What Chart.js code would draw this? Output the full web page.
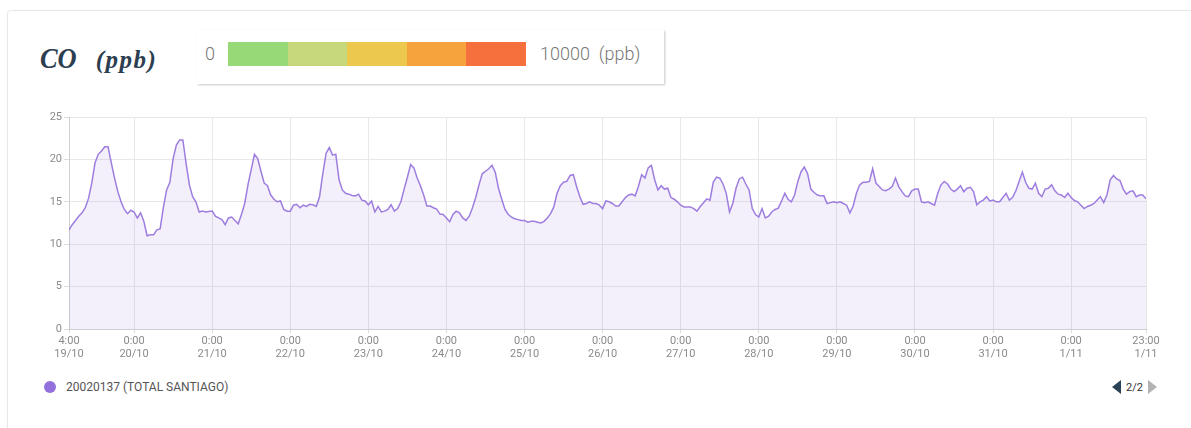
<!DOCTYPE html>
<html>
<head>
<meta charset="utf-8">
<title>CO (ppb)</title>
<script src="https://cdn.jsdelivr.net/npm/chart.js@4/dist/chart.umd.min.js"></script>
<style>
  html, body { margin: 0; padding: 0; background: #fff; }
  body { width: 1191px; height: 428px; position: relative; overflow: hidden; font-family: Roboto, sans-serif; }
  .card { position: absolute; left: 7px; top: 10px; width: 1210px; height: 440px; border: 1px solid #e8e8e8; border-radius: 4px; box-shadow: 0 0 2px rgba(0,0,0,0.04); }
  .title { position: absolute; left: 40px; top: 41px; font-family: 'Liberation Serif', serif; font-weight: bold; font-style: italic; color: #2c3e50; white-space: nowrap; }
  .title .gas { display: inline-block; font-size: 30px; transform: scaleX(0.88); transform-origin: left center; }
  .title .unit { display: inline-block; font-size: 25px; letter-spacing: 1.5px; margin-left: 14px; }
  .scale-box { position: absolute; left: 197px; top: 30px; width: 467px; height: 54px; background: #fff; box-shadow: 1px 1px 2px rgba(0,0,0,0.22); }
  .scale-box .lbl { position: absolute; top: 12px; font-size: 18px; font-weight: 300; color: #777; line-height: 24px; }
  .scale-bar { position: absolute; left: 31px; top: 12px; height: 24px; display: flex; }
  .scale-bar span { display: block; width: 59.6px; height: 24px; }
  #chart { position: absolute; left: 0; top: 100px; }
  .legend { position: absolute; left: 44px; top: 380px; display: flex; align-items: center; font-size: 12px; color: #555; }
  .legend .dot { width: 12px; height: 12px; border-radius: 50%; margin-right: 10px; }
  .pager { position: absolute; left: 1112px; top: 380px; display: flex; align-items: center; font-size: 11px; color: #333; }
  .pager .prev { width: 0; height: 0; border-top: 7px solid transparent; border-bottom: 7px solid transparent; border-right: 9px solid #2b4357; margin-right: 5px; }
  .pager .next { width: 0; height: 0; border-top: 7px solid transparent; border-bottom: 7px solid transparent; border-left: 9px solid #b3b3b3; margin-left: 5px; }
</style>
</head>
<body>
<div class="card"></div>
<div class="title"><span class="gas">CO</span><span class="unit">(ppb)</span></div>
<div class="scale-box">
  <div class="lbl" style="left:8px">0</div>
  <div class="scale-bar" id="scaleBar"></div>
  <div class="lbl" style="left:343px">10000&nbsp;&nbsp;(ppb)</div>
</div>
<canvas id="chart" width="1191" height="269"></canvas>
<div class="legend" id="legend"></div>
<div class="pager"><span class="prev"></span><span>2/2</span><span class="next"></span></div>

<script>
'use strict';

// colour scale shown next to the title
const scaleColors = ['#97d877', '#c6d87b', '#ecc94c', '#f6a33d', '#f6703d'];

// hourly CO readings, first value is 19/10 4:00, last is 1/11 23:00
const co = [
  // 19/10 (4:00 - 23:00)
  11.7, 12.3, 12.8, 13.3, 13.7, 14.3, 15.4, 17.2, 19.6, 20.6, 21.0, 21.5, 21.5, 19.6, 17.8, 16.2, 15.0, 14.1, 13.6, 14.0,
  // 20/10
  13.8, 13.1, 13.7, 12.7, 11.0, 11.1, 11.1, 11.7, 11.8, 14.3, 16.4, 17.3, 20.1, 21.7, 22.3, 22.3, 19.5, 17.0, 15.6, 15.0, 13.8, 13.9, 13.8, 13.85,
  // 21/10
  13.9, 13.3, 13.1, 12.9, 12.3, 13.1, 13.2, 12.8, 12.4, 13.5, 14.8, 17.0, 18.8, 20.6, 20.1, 18.6, 17.2, 16.9, 15.8, 15.3, 15.0, 15.1, 14.1, 13.9,
  // 22/10
  13.9, 14.6, 14.7, 14.3, 14.6, 14.45, 14.7, 14.65, 14.45, 15.6, 18.3, 20.7, 21.4, 20.5, 20.6, 17.6, 16.4, 16.0, 15.9, 15.75, 15.7, 15.9, 15.2, 15.1,
  // 23/10
  14.65, 15.1, 13.8, 14.45, 13.8, 13.9, 14.1, 14.65, 13.9, 14.2, 15.0, 16.5, 17.9, 19.4, 19.0, 17.8, 16.9, 15.8, 14.5, 14.5, 14.3, 14.15, 13.55, 13.5,
  // 24/10
  13.1, 12.65, 13.5, 13.9, 13.7, 13.1, 12.8, 13.3, 14.3, 15.5, 17.0, 18.3, 18.6, 18.9, 19.3, 18.5, 16.6, 15.3, 14.1, 13.5, 13.2, 13.0, 12.9, 12.8,
  // 25/10
  12.8, 12.6, 12.7, 12.7, 12.6, 12.5, 12.7, 13.1, 13.6, 14.4, 16.0, 16.9, 17.3, 17.4, 18.1, 18.2, 16.8, 15.6, 14.7, 14.8, 15.0, 14.8, 14.8, 14.6,
  // 26/10
  14.2, 15.1, 15.0, 14.8, 14.5, 14.5, 15.0, 15.5, 15.8, 15.9, 15.7, 16.8, 18.2, 17.8, 19.0, 19.3, 17.6, 16.4, 16.9, 16.5, 16.6, 15.5, 15.3, 15.0,
  // 27/10
  14.6, 14.4, 14.4, 14.4, 14.2, 13.9, 14.45, 14.9, 15.35, 15.2, 17.3, 17.9, 17.8, 17.1, 16.0, 13.8, 14.8, 16.6, 17.7, 17.9, 17.1, 16.4, 14.2, 13.5,
  // 28/10
  13.2, 14.2, 13.1, 13.3, 13.8, 14.1, 14.25, 15.1, 16.0, 15.3, 15.0, 15.8, 17.4, 18.55, 19.1, 18.3, 16.5, 16.1, 15.8, 15.7, 15.7, 14.8, 14.9, 15.0,
  // 29/10
  14.9, 15.0, 14.8, 14.6, 13.7, 14.5, 16.0, 17.0, 17.3, 17.3, 17.4, 18.9, 17.2, 16.8, 16.4, 16.3, 16.5, 16.8, 17.8, 16.8, 16.2, 15.7, 15.6, 16.3,
  // 30/10
  16.5, 16.5, 15.0, 14.9, 15.0, 14.8, 14.6, 16.0, 17.0, 17.4, 17.1, 16.5, 16.2, 16.5, 16.9, 16.2, 16.6, 16.7, 16.2, 14.65, 15.0, 15.2, 15.6, 15.1,
  // 31/10
  15.2, 15.0, 15.0, 15.5, 16.0, 15.2, 15.5, 16.3, 17.4, 18.5, 17.3, 16.6, 16.5, 17.2, 16.0, 15.6, 16.5, 16.6, 17.0, 16.3, 15.9, 15.8, 15.5, 16.0,
  // 1/11
  15.5, 15.15, 15.0, 14.6, 14.2, 14.45, 14.6, 14.8, 15.2, 15.6, 14.9, 15.8, 17.6, 18.1, 17.7, 17.5, 16.5, 15.9, 16.2, 16.3, 15.6, 15.8, 15.8, 15.35
];

// x-axis ticks: hour offset from 19/10 4:00, and the two label lines
const tickHours = [0, 20, 44, 68, 92, 116, 140, 164, 188, 212, 236, 260, 284, 308, 331];
const tickTimes = ['4:00', '0:00', '0:00', '0:00', '0:00', '0:00', '0:00', '0:00', '0:00', '0:00', '0:00', '0:00', '0:00', '0:00', '23:00'];
const tickDates = ['19/10', '20/10', '21/10', '22/10', '23/10', '24/10', '25/10', '26/10', '27/10', '28/10', '29/10', '30/10', '31/10', '1/11', '1/11'];

const seriesLabel = '20020137 (TOTAL SANTIAGO)';
const seriesColor = '#9370db';

// colour bar
const bar = document.getElementById('scaleBar');
scaleColors.forEach(c => {
  const s = document.createElement('span');
  s.style.background = c;
  bar.appendChild(s);
});

const axisText = { family: 'Roboto', size: 11 };

const co_data = {
  datasets: [{
    label: seriesLabel,
    data: co.map((v, i) => ({ x: i, y: v })),
    borderColor: 'rgba(147, 112, 219, 0.9)',
    backgroundColor: 'rgba(147, 112, 219, 0.11)',
    borderWidth: 1.5,
    fill: 'origin',
    pointRadius: 0,
    tension: 0
  }]
};

const co_config = {
  type: 'line',
  data: co_data,
  options: {
    responsive: false,
    animation: false,
    devicePixelRatio: 1,
    layout: { padding: { left: 0, right: 45, top: 17, bottom: 0 } },
    plugins: {
      legend: { display: false },
      tooltip: { enabled: false }
    },
    scales: {
      x: {
        type: 'linear',
        min: 0,
        max: 331,
        afterBuildTicks: scale => {
          scale.ticks = tickHours.map(h => ({ value: h }));
        },
        afterFit: scale => { scale.height = 40; },
        grid: { color: '#e8e8e8', tickLength: 4, tickColor: '#dcdcdc' },
        border: { color: '#cfcfcf' },
        ticks: {
          autoSkip: false,
          maxRotation: 0,
          padding: 2,
          color: '#8a8a8a',
          font: { ...axisText, lineHeight: 1.14 },
          callback: value => {
            const i = tickHours.indexOf(value);
            return i < 0 ? '' : [tickTimes[i], tickDates[i]];
          }
        }
      },
      y: {
        min: 0,
        max: 25,
        afterFit: scale => { scale.width = 69; },
        grid: { color: '#e8e8e8', tickLength: 5, tickColor: '#dcdcdc' },
        border: { color: '#cfcfcf' },
        ticks: { stepSize: 5, padding: 2, color: '#8a8a8a', font: axisText }
      }
    }
  }
};

const coChart = new Chart(document.getElementById('chart'), co_config);

// legend line under the chart
const legend = document.getElementById('legend');
coChart.data.datasets.forEach(ds => {
  const dot = document.createElement('span');
  dot.className = 'dot';
  dot.style.background = seriesColor;
  const txt = document.createElement('span');
  txt.textContent = ds.label;
  legend.appendChild(dot);
  legend.appendChild(txt);
});
</script>
</body>
</html>
